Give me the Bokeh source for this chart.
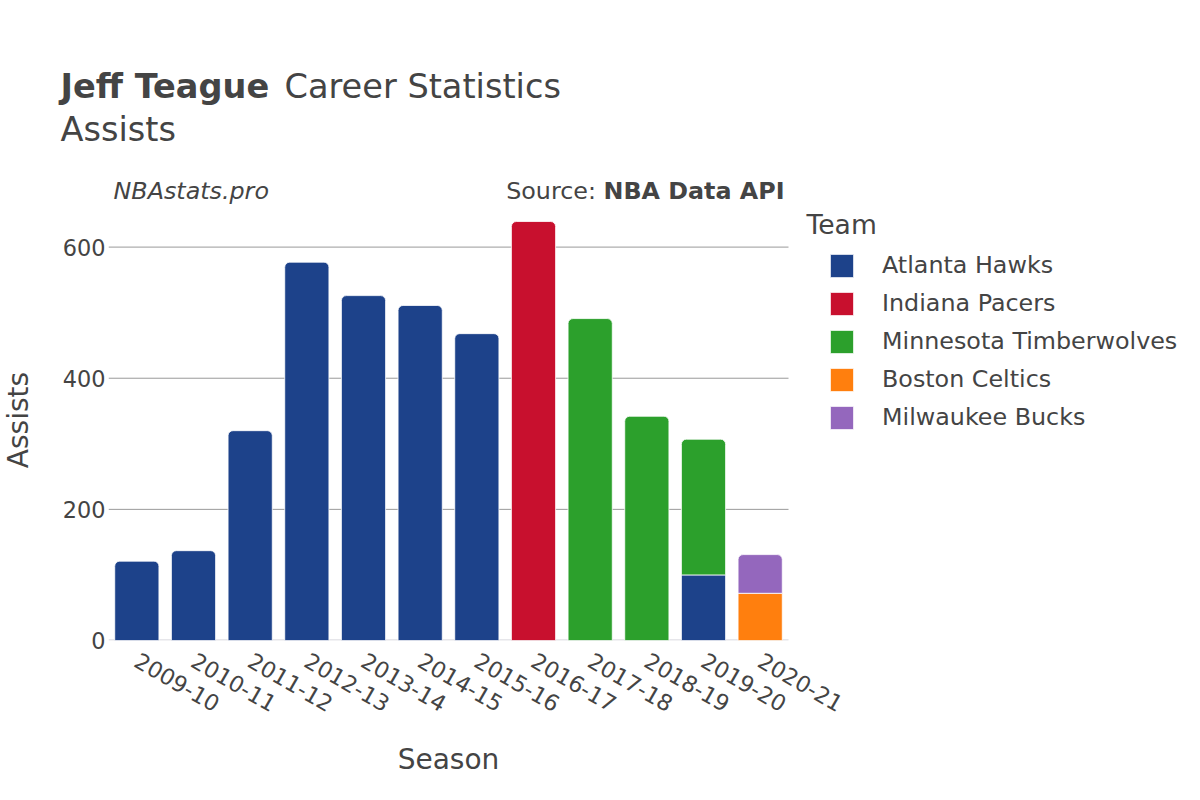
import math
from bokeh.plotting import figure
from bokeh.layouts import column, row
from bokeh.models import (ColumnDataSource, Range1d, Label, Legend,
                          LegendItem, FixedTicker, Plot)
from bokeh.embed import file_html
from bokeh.resources import INLINE

# ---------------- data ----------------
seasons = ["2009-10", "2010-11", "2011-12", "2012-13", "2013-14", "2014-15",
           "2015-16", "2016-17", "2017-18", "2018-19", "2019-20", "2020-21"]
teams = ["Atlanta Hawks", "Indiana Pacers", "Minnesota Timberwolves",
         "Boston Celtics", "Milwaukee Bucks"]
team_colors = ["#1d428a", "#c8102e", "#2ca02c", "#ff7f0e", "#9467bd"]

atlanta_hawks = [121, 137, 320, 577, 526, 511, 468, 0, 0, 0, 100, 0]
indiana_pacers = [0, 0, 0, 0, 0, 0, 0, 639, 0, 0, 0, 0]
minnesota_timberwolves = [0, 0, 0, 0, 0, 0, 0, 0, 491, 342, 207, 0]
boston_celtics = [0, 0, 0, 0, 0, 0, 0, 0, 0, 0, 0, 72]
milwaukee_bucks = [0, 0, 0, 0, 0, 0, 0, 0, 0, 0, 0, 59]
team_values = [atlanta_hawks, indiana_pacers, minnesota_timberwolves,
               boston_celtics, milwaukee_bucks]

y_ticks = [0, 200, 400, 600]

# ---------------- layout constants (picture pixels) ----------------
FONT = "DejaVu Sans"
TEXT = "#444444"
W, H = 1184, 784
HEAD_H = 205                 # title strip: 0 .. 205
MAIN_BOTTOM = 740            # main chart: 205 .. 740, season strip below
SIDE_W = 50                  # strip holding the y-axis title
FL, FR, FT, FB = 108, 788, 199, 640   # bar area edges
PX_PER_UNIT = (FB - FT) / 672.6
BASE_SHIFT = 0.4             # em offset of Bokeh's alphabetic baseline

n = len(seasons)
slot = (FR - FL) / n
x_end = (n - 0.5) + (W - FR) / slot
y_end = (FB - HEAD_H) / PX_PER_UNIT

HAS_FRAME_ALIGN = "frame_align" in Plot.properties()


def strip(width, height):
    f = figure(width=width, height=height, x_range=Range1d(0, width),
               y_range=Range1d(0, height), output_backend="svg",
               toolbar_location=None, x_axis_location=None,
               y_axis_location=None, min_border=0)
    f.outline_line_color = None
    f.xgrid.visible = False
    f.ygrid.visible = False
    if HAS_FRAME_ALIGN:
        f.frame_align = False
    return f


def strip_text(f, top, height, text, px, py, size, style="normal",
               align="left"):
    s = float(size.replace("px", ""))
    f.add_layout(Label(x=px, y=(top + height) - (py - BASE_SHIFT * s),
                       x_units="data", y_units="data", text=text,
                       text_font=FONT, text_font_size=size,
                       text_font_style=style, text_color=TEXT,
                       text_align=align, text_baseline="alphabetic"))


# ---------------- title strip ----------------
head = strip(W, HEAD_H)
strip_text(head, 0, HEAD_H, "Jeff Teague", 60, 99.5, "33.6px", "bold")
strip_text(head, 0, HEAD_H, "Career Statistics", 284, 99.5, "33.6px")
strip_text(head, 0, HEAD_H, "Assists", 60, 142.3, "33.6px")
strip_text(head, 0, HEAD_H, "NBAstats.pro", 113, 200, "23.8px", "italic")
strip_text(head, 0, HEAD_H, "NBA Data API", 784, 200, "23.8px", "bold", "right")
strip_text(head, 0, HEAD_H, "Source:", 595.4, 200, "23.8px", "normal", "right")

# ---------------- y-axis title strip ----------------
MAIN_H = MAIN_BOTTOM - HEAD_H
side = strip(SIDE_W, MAIN_H)
side.add_layout(Label(x=29 - BASE_SHIFT * 28, y=MAIN_BOTTOM - (FT + FB) / 2,
                      x_units="data", y_units="data", text="Assists",
                      angle=math.pi / 2, text_font=FONT, text_font_size="28px",
                      text_color=TEXT, text_align="center",
                      text_baseline="alphabetic"))

# ---------------- main chart ----------------
p = figure(width=W - SIDE_W, height=MAIN_H,
           x_range=Range1d(-0.5, x_end), y_range=Range1d(0, y_end),
           output_backend="svg", toolbar_location=None,
           min_border_left=FL - SIDE_W, min_border_right=0, min_border_top=0,
           min_border_bottom=MAIN_BOTTOM - FB)
p.outline_line_color = None
p.xgrid.visible = False
p.ygrid.visible = False
if HAS_FRAME_ALIGN:
    p.frame_align = False

x_idx = list(range(n))

# horizontal grid lines across the bar area only
grid_y = y_ticks[1:]
p.segment(x0=[-0.5] * len(grid_y), x1=[n - 0.5] * len(grid_y),
          y0=grid_y, y1=grid_y, line_color="#999999", line_width=1,
          level="underlay")
# zero line
p.segment(x0=[-0.5], x1=[n - 0.5], y0=[0], y1=[0], line_color="#e6e6ea",
          line_width=3, level="underlay")

# stacked bars
legend_items = []
n_teams = len(teams)
for ti, team in enumerate(teams):
    top_part = {"x": [], "bottom": [], "top": []}
    low_part = {"x": [], "bottom": [], "top": []}
    for si in x_idx:
        v = team_values[ti][si]
        if v == 0:
            continue
        base = sum(team_values[k][si] for k in range(ti))
        is_top = all(team_values[k][si] == 0 for k in range(ti + 1, n_teams))
        d = top_part if is_top else low_part
        d["x"].append(si)
        d["bottom"].append(base)
        d["top"].append(base + v)
    rends = []
    if top_part["x"]:
        rends.append(p.vbar(x="x", bottom="bottom", top="top", width=0.78,
                            source=ColumnDataSource(top_part),
                            fill_color=team_colors[ti], line_color="white",
                            line_width=0.8, border_radius=(5, 5, 0, 0)))
    if low_part["x"]:
        rends.append(p.vbar(x="x", bottom="bottom", top="top", width=0.78,
                            source=ColumnDataSource(low_part),
                            fill_color=team_colors[ti], line_color="white",
                            line_width=0.8))
    legend_items.append(LegendItem(label=team, renderers=rends))

# axes
p.yaxis.ticker = FixedTicker(ticks=y_ticks)
p.yaxis.axis_line_color = None
p.yaxis.major_tick_line_color = None
p.yaxis.minor_tick_line_color = None
p.yaxis.major_tick_out = 0
p.yaxis.major_tick_in = 0
p.yaxis.major_label_standoff = 3
p.yaxis.major_label_text_font = FONT
p.yaxis.major_label_text_font_size = "22.4px"
p.yaxis.major_label_text_color = TEXT

p.xaxis.ticker = FixedTicker(ticks=x_idx)
p.xaxis.major_label_overrides = {i: s for i, s in enumerate(seasons)}
p.xaxis.axis_line_color = None
p.xaxis.major_tick_line_color = None
p.xaxis.minor_tick_line_color = None
p.xaxis.major_tick_out = 0
p.xaxis.major_tick_in = 0
p.xaxis.major_label_orientation = -math.pi / 6
p.xaxis.major_label_standoff = 18
p.xaxis.major_label_text_font = FONT
p.xaxis.major_label_text_font_size = "22.4px"
p.xaxis.major_label_text_color = TEXT

# legend (inside the frame, which extends to the right edge)
GLYPH = 29          # legend box; the drawn square is 80 % of it
legend = Legend(items=legend_items, location=(827 - FL, 208.5),
                orientation="vertical", padding=0, margin=0, spacing=9,
                glyph_width=GLYPH, glyph_height=GLYPH, label_height=GLYPH,
                label_standoff=26, label_text_font=FONT,
                label_text_font_size="23.8px", label_text_color=TEXT,
                border_line_alpha=0, background_fill_alpha=0)
p.add_layout(legend, "center")

p.add_layout(Label(x=806 - FL, y=FB - (235 - BASE_SHIFT * 26.6),
                   x_units="screen", y_units="screen", text="Team",
                   text_font=FONT, text_font_size="26.6px",
                   text_color=TEXT, text_baseline="alphabetic"))

# ---------------- x-axis title strip ----------------
SEASON_H = H - MAIN_BOTTOM
foot = strip(W, SEASON_H)
strip_text(foot, MAIN_BOTTOM, SEASON_H, "Season", 448, 770, "28px",
           "normal", "center")

page = column(head, row(side, p, spacing=0), foot, spacing=0)
open("out.html", "w").write(file_html(page, INLINE))
